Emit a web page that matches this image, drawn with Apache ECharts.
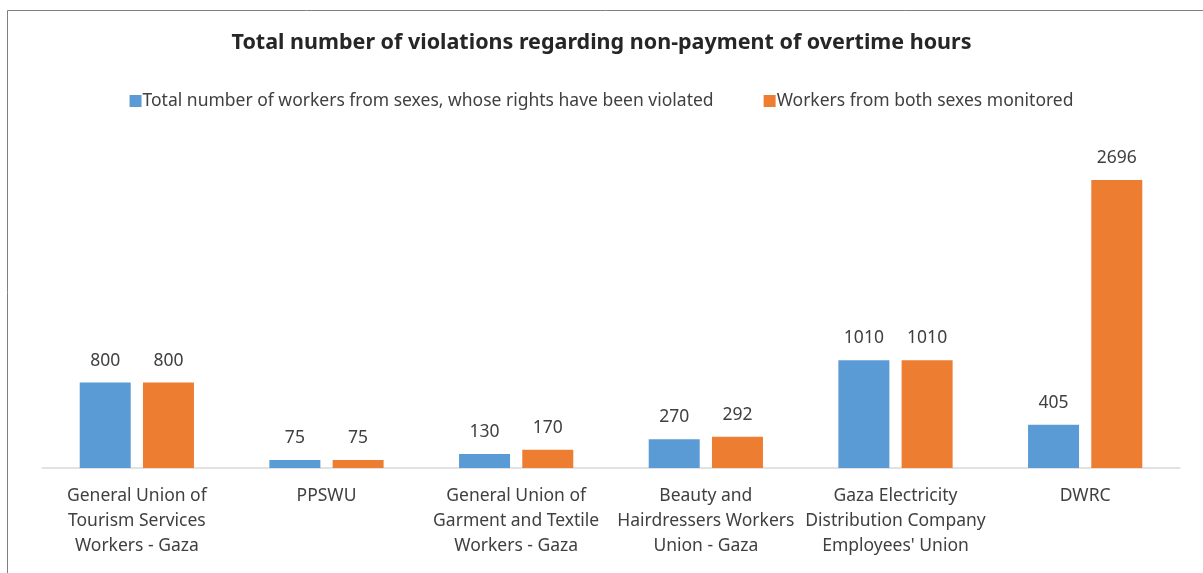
<!DOCTYPE html>
<html>
<head>
<meta charset="utf-8">
<script src="https://cdn.jsdelivr.net/npm/echarts@6/dist/echarts.min.js"></script>
<style>
  html, body { margin: 0; padding: 0; background: #fff; }
  #chart { width: 1203px; height: 573px; }
</style>
</head>
<body>
<div id="chart"></div>
<script>
var categories = [
  'General Union of\nTourism Services\nWorkers - Gaza',
  'PPSWU',
  'General Union of\nGarment and Textile\nWorkers - Gaza',
  'Beauty and\nHairdressers Workers\nUnion - Gaza',
  'Gaza Electricity\nDistribution Company\nEmployees\' Union',
  'DWRC'
];
var violated = [800, 75, 130, 270, 1010, 405];
var monitored = [800, 75, 170, 292, 1010, 2696];
var seriesNames = [
  'Total number of workers from sexes, whose rights have been violated',
  'Workers from both sexes monitored'
];

var font = '"Noto Sans", "Open Sans", sans-serif';
var myChart = echarts.init(document.getElementById('chart'));

myChart.setOption({
  textStyle: { fontFamily: font },
  title: {
    text: 'Total number of violations regarding non-payment of overtime hours',
    left: 'center',
    top: 27,
    textStyle: { fontSize: 21.5, fontWeight: 'bold', color: '#262626', fontFamily: font }
  },
  legend: {
    data: seriesNames,
    top: 87,
    left: 'center',
    itemWidth: 12,
    itemHeight: 12,
    itemGap: 50,
    icon: 'rect',
    textStyle: { fontSize: 17.5, color: '#404040', padding: [0, 0, 0, -4] }
  },
  grid: { left: 42, right: 23, top: 147.6, bottom: 105 },
  xAxis: {
    type: 'category',
    data: categories,
    axisLine: { lineStyle: { color: '#d9d9d9', width: 1.5 } },
    axisTick: { show: false },
    axisLabel: { interval: 0, fontSize: 17.5, color: '#404040', lineHeight: 25, margin: 16 }
  },
  yAxis: {
    type: 'value',
    min: 0,
    max: 3000,
    show: false,
    splitLine: { show: false }
  },
  series: [
    {
      name: seriesNames[0],
      type: 'bar',
      data: violated,
      barWidth: 51,
      barGap: '24%',
      itemStyle: { color: '#5b9bd5' },
      label: { show: true, position: 'top', distance: 13, fontSize: 17.5, color: '#404040' }
    },
    {
      name: seriesNames[1],
      type: 'bar',
      data: monitored,
      barWidth: 51,
      itemStyle: { color: '#ed7d31' },
      label: { show: true, position: 'top', distance: 13, fontSize: 17.5, color: '#404040' }
    }
  ],
  graphic: [{
    type: 'rect',
    shape: { x: 7.5, y: 10.5, width: 1300, height: 700 },
    style: { fill: 'none', stroke: '#808080', lineWidth: 1 },
    silent: true
  }]
});
</script>
</body>
</html>
